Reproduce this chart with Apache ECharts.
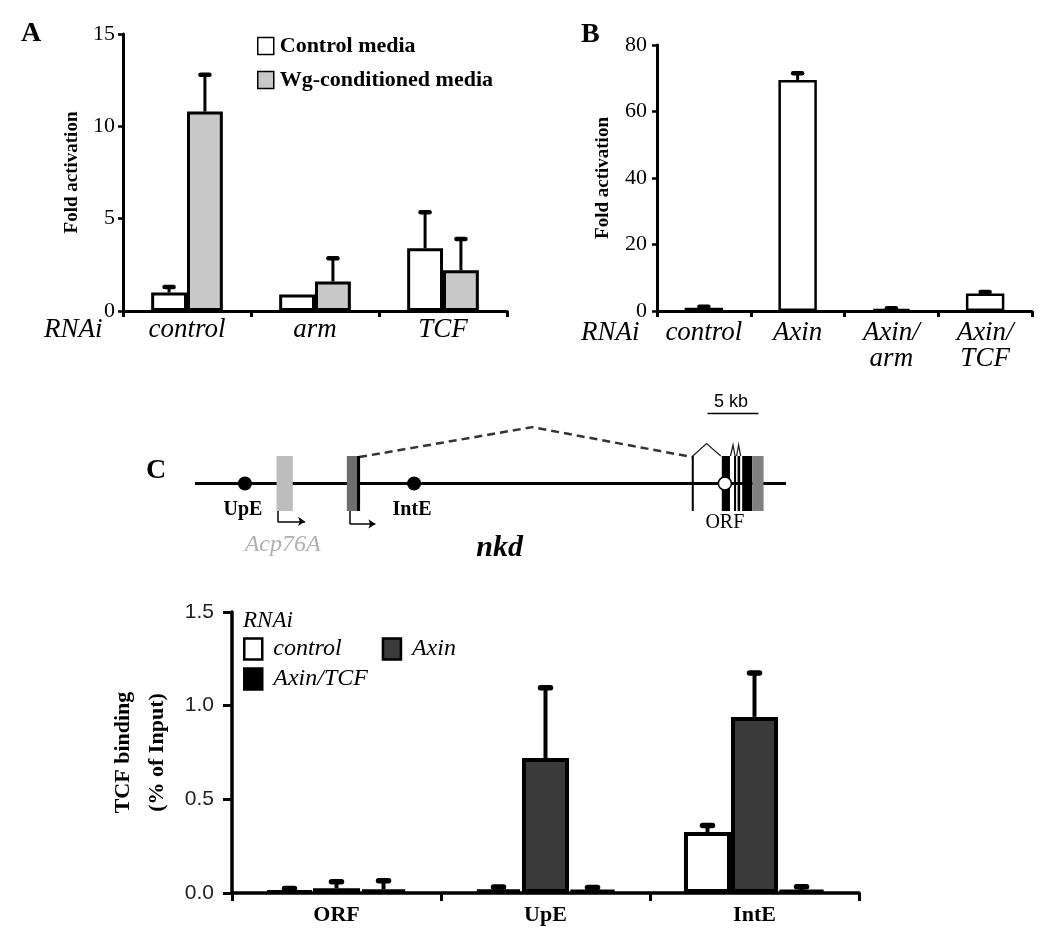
<!DOCTYPE html>
<html><head><meta charset="utf-8">
<script src="https://cdn.jsdelivr.net/npm/echarts@6/dist/echarts.min.js"></script>
<style>html,body{margin:0;padding:0;background:#fff}#c{width:1050px;height:944px}</style>
</head><body><div id="c"></div>
<script>
// ---------- Panel A data ----------
var catsA = ['control', 'arm', 'TCF'];
var ctrlMedia = [1.0, 0.9, 3.4];
var ctrlMediaErr = [0.3, 0, 1.95];
var wgMedia = [10.8, 1.6, 2.2];
var wgMediaErr = [2.0, 1.25, 1.7];
var ticksA = [0, 15, 5];
// ---------- Panel B data ----------
var catsB = ['control', 'Axin', 'Axin/\narm', 'Axin/\nTCF'];
var valsB = [1.0, 69.5, 0.6, 5.3];
var errB = [0.3, 2.0, 0.2, 0.4];
var ticksB = [0, 80, 20];
// ---------- Panel C chart data ----------
var catsC = ['ORF', 'UpE', 'IntE'];
var ctrlC = [0.012, 0.02, 0.325];
var ctrlCErr = [0.012, 0.012, 0.035];
var axinC = [0.025, 0.72, 0.94];
var axinCErr = [0.035, 0.375, 0.235];
var axinTcfC = [0.02, 0.015, 0.015];
var axinTcfCErr = [0.045, 0.015, 0.018];
var ticksC = [0, 1.5, 0.5];
// ---------- Gene diagram (kb along locus; track levels) ----------
var locusSpan = [0, 58];
var enhancers = [4.9, 21.5];          // UpE, IntE
var enhancerNames = ['UpE', 'IntE'];
var acpExons = [[8.0, 9.6]];
var nkdFirstExon = [[14.9, 15.9]];
var nkdFirstExonEdge = [[15.9, 16.2]];
var exonBoundary = [[48.75, 48.95]];
var orfExons = [[51.7, 52.5], [52.9, 53.1], [53.25, 53.5], [53.7, 54.7]];
var utrExons = [[54.7, 55.8]];
var orfProbe = [52.0];
var spliceDash = [[16.1, 0.96], [33.1, 2.05], [48.8, 0.96]];
var spliceSmall = [[[48.85, 1.0], [50.2, 1.45], [51.6, 1.0]], [[52.55, 1.0], [52.8, 1.4], [53.0, 1.0]], [[53.15, 1.0], [53.35, 1.4], [53.55, 1.0]]];
var tssDrops = [[[8.1, -1.0], [8.1, -1.38]], [[15.2, -1.0], [15.2, -1.47]]];
var tssArrows = [[[8.1, -1.38], [10.8, -1.38]], [[15.2, -1.47], [17.7, -1.47]]];
var scaleBar = [50.3, 55.3];

var SERIF = '"Times New Roman","Liberation Serif",serif';
var SANS = 'Arial,"Liberation Sans",sans-serif';

function errRender(nSeries, barFrac, lineW, capW) {
  return function (params, api) {
    var cat = api.value(0), val = api.value(1), err = api.value(2), s = api.value(3);
    if (!err) return null;
    var band = api.size([1, 0])[0];
    var bw = band * barFrac;
    var base = api.coord([cat, val]);
    var top = api.coord([cat, val + err]);
    var x = base[0] + (s - (nSeries - 1) / 2) * bw;
    return {
      type: 'group', children: [
        { type: 'line', shape: { x1: x, y1: base[1], x2: x, y2: top[1] }, style: { stroke: '#000', lineWidth: lineW } },
        { type: 'line', shape: { x1: x - capW / 2, y1: top[1], x2: x + capW / 2, y2: top[1] }, style: { stroke: '#000', lineWidth: lineW + 1.5, lineCap: 'round' } }
      ]
    };
  };
}
function errData(groups) {
  var out = [];
  groups.forEach(function (g, s) {
    g[0].forEach(function (v, i) { out.push([i, v, g[1][i], s]); });
  });
  return out;
}
function exonRender(params, api) {
  var p0 = api.coord([api.value(0), 1]);
  var p1 = api.coord([api.value(1), -1]);
  return { type: 'rect', shape: { x: p0[0], y: p0[1], width: Math.max(p1[0] - p0[0], 1.5), height: p1[1] - p0[1] }, style: { fill: api.visual('color') } };
}
function exonSeries(arr, color) {
  return { type: 'custom', xAxisIndex: 3, yAxisIndex: 3, renderItem: exonRender, itemStyle: { color: color, opacity: 1 },
    encode: { x: [0, 1], y: 2 }, data: arr.map(function (e) { return [e[0], e[1], 0]; }), z: 3, silent: true };
}
function textSeries(pt, text, style) {
  return { type: 'scatter', xAxisIndex: 3, yAxisIndex: 3, symbolSize: 0, silent: true, z: 5,
    itemStyle: { opacity: 1 },
    data: [pt], label: Object.assign({ show: true, position: 'inside', formatter: text }, style) };
}

var chart = echarts.init(document.getElementById('c'), null, { renderer: 'canvas' });

var titleStyle = { fontFamily: SERIF, fontSize: 28, fontWeight: 'bold', color: '#000' };
var rnaiStyle = { fontFamily: SERIF, fontSize: 27, fontStyle: 'italic', fontWeight: 'normal', color: '#000' };

var option = {
  animation: false,
  backgroundColor: '#fff',
  title: [
    { text: 'A', left: 21, top: 20, padding: 0, textStyle: titleStyle },
    { text: 'B', left: 581, top: 21, padding: 0, textStyle: titleStyle },
    { text: 'C', left: 146, top: 457, padding: 0, textStyle: titleStyle },
    { text: 'RNAi', left: 44, top: 316, padding: 0, textStyle: rnaiStyle },
    { text: 'RNAi', left: 581, top: 319, padding: 0, textStyle: rnaiStyle },
    { text: 'RNAi', left: 243, top: 609, padding: 0, textStyle: { fontFamily: SERIF, fontSize: 23, fontStyle: 'italic', fontWeight: 'normal', color: '#000' } }
  ],
  legend: [
    { data: ['Control media', 'Wg-conditioned media'], orient: 'vertical', left: 257, top: 35, padding: 0,
      icon: 'rect', itemWidth: 16, itemHeight: 17, itemGap: 12, selectedMode: false,
      itemStyle: { borderWidth: 1.5, borderColor: '#000' },
      textStyle: { fontFamily: SERIF, fontSize: 22, fontWeight: 'bold', color: '#000', padding: [0, 0, 0, 1] } },
    { data: ['control', 'Axin'], orient: 'horizontal', left: 243, top: 637, padding: 0,
      icon: 'rect', itemWidth: 18, itemHeight: 21, itemGap: 40, selectedMode: false,
      itemStyle: { borderWidth: 2.5, borderColor: '#000' },
      textStyle: { fontFamily: SERIF, fontSize: 24, fontStyle: 'italic', color: '#000', padding: [0, 0, 0, 6] } },
    { data: ['Axin/TCF'], orient: 'horizontal', left: 243, top: 667, padding: 0,
      icon: 'rect', itemWidth: 18, itemHeight: 21, selectedMode: false,
      itemStyle: { borderWidth: 2.5, borderColor: '#000' },
      textStyle: { fontFamily: SERIF, fontSize: 24, fontStyle: 'italic', color: '#000', padding: [0, 0, 0, 6] } }
  ],
  grid: [
    { left: 123, top: 34, width: 384, height: 277 },
    { left: 657, top: 45, width: 375, height: 266 },
    { left: 232, top: 612, width: 627, height: 281 },
    { left: 195, top: 401, width: 591, height: 165 }
  ],
  xAxis: [
    { gridIndex: 0, type: 'category', data: catsA,
      axisLine: { lineStyle: { color: '#000', width: 3 } },
      axisTick: { show: true, length: 6, lineStyle: { color: '#000', width: 3 } },
      axisLabel: { interval: 0, margin: 5, fontFamily: SERIF, fontSize: 27, fontStyle: 'italic', color: '#000' } },
    { gridIndex: 1, type: 'category', data: catsB,
      axisLine: { lineStyle: { color: '#000', width: 3 } },
      axisTick: { show: true, length: 6, lineStyle: { color: '#000', width: 3 } },
      axisLabel: { interval: 0, margin: 9, fontFamily: SERIF, fontSize: 27, fontStyle: 'italic', color: '#000', lineHeight: 26, verticalAlign: 'top' } },
    { gridIndex: 2, type: 'category', data: catsC,
      axisLine: { lineStyle: { color: '#000', width: 3.5 } },
      axisTick: { show: true, length: 8, lineStyle: { color: '#000', width: 3 } },
      axisLabel: { interval: 0, margin: 11, fontFamily: SERIF, fontSize: 22, fontWeight: 'bold', color: '#000' } },
    { gridIndex: 3, type: 'value', min: locusSpan[0], max: locusSpan[1], show: false }
  ],
  yAxis: [
    { gridIndex: 0, type: 'value', min: ticksA[0], max: ticksA[1], interval: ticksA[2],
      name: 'Fold activation', nameLocation: 'middle', nameGap: 41, nameRotate: 90,
      nameTextStyle: { fontFamily: SERIF, fontSize: 19, fontWeight: 'bold', color: '#000' },
      axisLine: { show: true, lineStyle: { color: '#000', width: 3 } },
      axisTick: { show: true, length: 5, lineStyle: { color: '#000', width: 2.5 } },
      splitLine: { show: false },
      axisLabel: { margin: 8, fontFamily: SERIF, fontSize: 22, color: '#000' } },
    { gridIndex: 1, type: 'value', min: ticksB[0], max: ticksB[1], interval: ticksB[2],
      name: 'Fold activation', nameLocation: 'middle', nameGap: 44, nameRotate: 90,
      nameTextStyle: { fontFamily: SERIF, fontSize: 19, fontWeight: 'bold', color: '#000' },
      axisLine: { show: true, lineStyle: { color: '#000', width: 3 } },
      axisTick: { show: true, length: 5, lineStyle: { color: '#000', width: 2.5 } },
      splitLine: { show: false },
      axisLabel: { margin: 10, fontFamily: SERIF, fontSize: 22, color: '#000' } },
    { gridIndex: 2, type: 'value', min: ticksC[0], max: ticksC[1], interval: ticksC[2],
      name: 'TCF binding\n(% of Input)', nameLocation: 'middle', nameGap: 48, nameRotate: 90,
      nameTextStyle: { fontFamily: SERIF, fontSize: 22, fontWeight: 'bold', color: '#000', lineHeight: 34 },
      axisLine: { show: true, lineStyle: { color: '#000', width: 3.5 } },
      axisTick: { show: true, length: 9, lineStyle: { color: '#000', width: 3 } },
      splitLine: { show: false },
      axisLabel: { margin: 18, fontFamily: SANS, fontSize: 21, color: '#222', formatter: function (v) { return v.toFixed(1); } } },
    { gridIndex: 3, type: 'value', min: -3, max: 3, show: false }
  ],
  series: [
    // Panel A
    { name: 'Control media', type: 'bar', xAxisIndex: 0, yAxisIndex: 0, data: ctrlMedia, barWidth: '28%', barGap: '0%',
      itemStyle: { color: '#fff', borderColor: '#000', borderWidth: 3 } },
    { name: 'Wg-conditioned media', type: 'bar', xAxisIndex: 0, yAxisIndex: 0, data: wgMedia, barWidth: '28%', barGap: '0%',
      itemStyle: { color: '#c8c8c8', borderColor: '#000', borderWidth: 3 } },
    { type: 'custom', xAxisIndex: 0, yAxisIndex: 0, renderItem: errRender(2, 0.28, 3, 9), encode: { x: 0, y: 1 }, z: 4, silent: true,
      data: errData([[ctrlMedia, ctrlMediaErr], [wgMedia, wgMediaErr]]) },
    // Panel B
    { name: 'B', type: 'bar', xAxisIndex: 1, yAxisIndex: 1, data: valsB, barWidth: '41%',
      itemStyle: { color: '#fff', borderColor: '#000', borderWidth: 2.5 } },
    { type: 'custom', xAxisIndex: 1, yAxisIndex: 1, renderItem: errRender(1, 0.41, 3, 9), encode: { x: 0, y: 1 }, z: 4, silent: true,
      data: errData([[valsB, errB]]) },
    // Panel C chart
    { name: 'control', type: 'bar', xAxisIndex: 2, yAxisIndex: 2, data: ctrlC, barWidth: '22.5%', barGap: '0%',
      itemStyle: { color: '#fff', borderColor: '#000', borderWidth: 4 } },
    { name: 'Axin', type: 'bar', xAxisIndex: 2, yAxisIndex: 2, data: axinC, barWidth: '22.5%', barGap: '0%',
      itemStyle: { color: '#3a3a3a', borderColor: '#000', borderWidth: 4 } },
    { name: 'Axin/TCF', type: 'bar', xAxisIndex: 2, yAxisIndex: 2, data: axinTcfC, barWidth: '22.5%', barGap: '0%',
      itemStyle: { color: '#000', borderColor: '#000', borderWidth: 4 } },
    { type: 'custom', xAxisIndex: 2, yAxisIndex: 2, renderItem: errRender(3, 0.225, 4, 10), encode: { x: 0, y: 1 }, z: 4, silent: true,
      data: errData([[ctrlC, ctrlCErr], [axinC, axinCErr], [axinTcfC, axinTcfCErr]]) },
    // Gene diagram
    { type: 'line', xAxisIndex: 3, yAxisIndex: 3, symbol: 'none', silent: true, z: 2,
      data: [[locusSpan[0], 0], [locusSpan[1], 0]], lineStyle: { color: '#000', width: 3, opacity: 1 } },
    { type: 'line', xAxisIndex: 3, yAxisIndex: 3, symbol: 'none', silent: true, z: 2,
      data: spliceDash, lineStyle: { color: '#333', width: 2.5, type: [8, 5], opacity: 1 } },
    { type: 'lines', coordinateSystem: 'cartesian2d', xAxisIndex: 3, yAxisIndex: 3, polyline: true, silent: true, z: 2,
      data: spliceSmall.map(function (c) { return { coords: c }; }), lineStyle: { color: '#222', width: 1.3, opacity: 1 } },
    { type: 'lines', coordinateSystem: 'cartesian2d', xAxisIndex: 3, yAxisIndex: 3, silent: true, z: 2,
      data: tssDrops.map(function (c) { return { coords: c }; }), lineStyle: { color: '#000', width: 1.5, opacity: 1 } },
    { type: 'lines', coordinateSystem: 'cartesian2d', xAxisIndex: 3, yAxisIndex: 3, silent: true, z: 2,
      symbol: ['none', 'arrow'], symbolSize: 7,
      data: tssArrows.map(function (c) { return { coords: c }; }), lineStyle: { color: '#000', width: 1.5, opacity: 1 } },
    { type: 'line', xAxisIndex: 3, yAxisIndex: 3, symbol: 'none', silent: true, z: 2,
      data: [[scaleBar[0], 2.55], [scaleBar[1], 2.55]], lineStyle: { color: '#000', width: 1.5, opacity: 1 } },
    exonSeries(acpExons, '#bdbdbd'),
    exonSeries(nkdFirstExon, '#6e6e6e'),
    exonSeries(nkdFirstExonEdge, '#000'),
    exonSeries(exonBoundary, '#000'),
    exonSeries(orfExons, '#000'),
    exonSeries(utrExons, '#808080'),
    { type: 'scatter', xAxisIndex: 3, yAxisIndex: 3, symbolSize: 14, silent: true, z: 4,
      data: enhancers.map(function (x) { return [x, 0]; }), itemStyle: { color: '#000', opacity: 1 } },
    { type: 'scatter', xAxisIndex: 3, yAxisIndex: 3, symbolSize: 13, silent: true, z: 6,
      data: orfProbe.map(function (x) { return [x, 0]; }), itemStyle: { color: '#fff', borderColor: '#000', borderWidth: 1.5, opacity: 1 } },
    textSeries([4.7, -0.96], enhancerNames[0], { fontFamily: SERIF, fontSize: 20, fontWeight: 'bold', color: '#000' }),
    textSeries([21.3, -0.96], enhancerNames[1], { fontFamily: SERIF, fontSize: 20, fontWeight: 'bold', color: '#000' }),
    textSeries([52.0, -1.44], 'ORF', { fontFamily: SERIF, fontSize: 20, color: '#000' }),
    textSeries([8.6, -2.24], 'Acp76A', { fontFamily: SERIF, fontSize: 24, fontStyle: 'italic', color: '#b0b0b0' }),
    textSeries([29.9, -2.35], 'nkd', { fontFamily: SERIF, fontSize: 30, fontStyle: 'italic', fontWeight: 'bold', color: '#000' }),
    textSeries([52.6, 2.96], '5 kb', { fontFamily: SANS, fontSize: 18, color: '#000' })
  ]
};
chart.setOption(option);
</script>
</body></html>
